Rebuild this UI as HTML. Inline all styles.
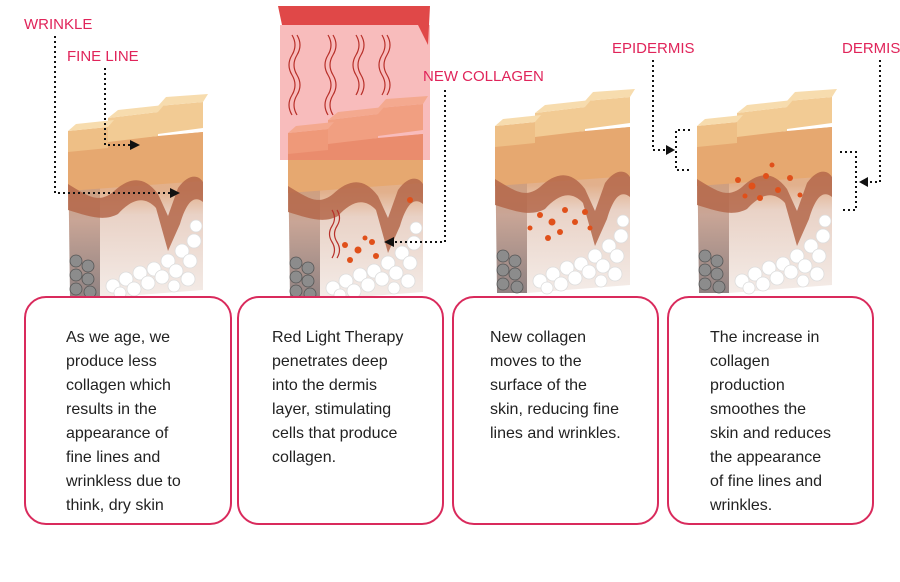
<!DOCTYPE html>
<html><head><meta charset="utf-8"><style>
body{margin:0;background:#fff;width:900px;height:582px;overflow:hidden;position:relative;font-family:"Liberation Sans",sans-serif}
.box{position:absolute;top:296px;height:229px;border:2px solid #d92a5c;border-radius:22px;box-sizing:border-box;background:#fff}
.t{position:absolute;top:326px;font-size:16px;line-height:24px;color:#222}
.l{position:absolute;color:#e0245a;font-size:15px}
svg{position:absolute;left:0;top:0}
</style></head><body>
<svg width="900" height="582">
<defs>
<linearGradient id="body" x1="0" y1="0" x2="0" y2="1">
<stop offset="0" stop-color="#e9b07a"/><stop offset="0.35" stop-color="#e2b08c"/><stop offset="0.5" stop-color="#e9d2c6"/><stop offset="1" stop-color="#f4ece8"/></linearGradient>
<linearGradient id="side" x1="0" y1="0" x2="0" y2="1">
<stop offset="0" stop-color="#d8965e"/><stop offset="0.5" stop-color="#c9a596"/><stop offset="1" stop-color="#8f8282"/></linearGradient>
<g id="blk">
<polygon points="0,38 32,36 32,192 2,192" fill="url(#side)"/>
<polygon points="32,36 135,26 135,184 32,192" fill="url(#body)"/>
<polygon points="0,38 135,26 135,75 0,85" fill="#e6a870"/>
<path d="M0,78 C20,90 30,98 45,86 C60,72 75,68 90,88 L100,110 L110,82 C120,68 130,68 135,76 L135,96 C125,88 118,98 112,118 L100,145 L88,102 C75,88 62,95 50,108 C35,116 20,110 0,104Z" fill="#b4674a" opacity="0.85"/>
<polygon points="0,25 40,21 40,42 0,46" fill="#eebf86"/>
<polygon points="40,12 90,6 90,30 40,36" fill="#f2cb94"/>
<polygon points="90,0 135,-4 135,22 90,28" fill="#f2cb94"/>
<polygon points="0,25 8,18 46,14 40,21" fill="#f7dcae"/>
<polygon points="40,12 50,4 96,-1 90,6" fill="#f7dcae"/>
<polygon points="90,0 98,-9 140,-12 135,-4" fill="#f7dcae"/>
<g fill="#fff" stroke="#ddd" stroke-width="0.8">
<circle cx="45" cy="180" r="7"/><circle cx="58" cy="173" r="7"/><circle cx="72" cy="167" r="7"/><circle cx="86" cy="163" r="7"/><circle cx="100" cy="155" r="7"/><circle cx="114" cy="145" r="7"/><circle cx="126" cy="135" r="7"/><circle cx="52" cy="187" r="6"/><circle cx="66" cy="183" r="7"/><circle cx="80" cy="177" r="7"/><circle cx="94" cy="171" r="7"/><circle cx="108" cy="165" r="7"/><circle cx="122" cy="155" r="7"/><circle cx="120" cy="173" r="7"/><circle cx="106" cy="180" r="6"/><circle cx="128" cy="120" r="6"/></g>
<g fill="#8c8c8c" stroke="#555" stroke-width="0.8">
<circle cx="8" cy="155" r="6"/><circle cx="20" cy="160" r="6"/><circle cx="8" cy="169" r="6"/><circle cx="20" cy="173" r="6"/><circle cx="8" cy="183" r="6"/><circle cx="22" cy="186" r="6"/></g>
</g>
</defs>
<use href="#blk" transform="translate(68,106)"/>
<use href="#blk" transform="translate(288,108)"/>
<use href="#blk" transform="translate(495,101)"/>
<use href="#blk" transform="translate(697,101)"/>
<rect x="280" y="25" width="150" height="135" fill="#f06a6a" opacity="0.45"/>
<polygon points="278,6 430,6 428,45 418,25 282,25" fill="#e04848"/>
<g fill="none" stroke="#b8302a" stroke-width="1.2">
<path d="M292,35 q6,10 0,20 q-6,10 0,20 q6,10 0,20 q-6,10 0,20"/><path d="M297,35 q6,10 0,20 q-6,10 0,20 q6,10 0,20 q-6,10 0,20"/>
<path d="M328,35 q6,10 0,20 q-6,10 0,20 q6,10 0,20 q-6,10 0,20"/><path d="M333,35 q6,10 0,20 q-6,10 0,20 q6,10 0,20 q-6,10 0,20"/>
<path d="M356,35 q6,10 0,20 q-6,10 0,20 q6,10 0,20"/><path d="M361,35 q6,10 0,20 q-6,10 0,20 q6,10 0,20"/>
<path d="M382,35 q6,10 0,20 q-6,10 0,20 q6,10 0,20"/><path d="M387,35 q6,10 0,20 q-6,10 0,20 q6,10 0,20"/>
<path d="M332,210 q5,8 0,16 q-5,8 0,16 q5,8 0,16"/><path d="M337,210 q5,8 0,16 q-5,8 0,16 q5,8 0,16"/></g>
<g fill="#e0501a">
<circle cx="345" cy="245" r="3"/><circle cx="358" cy="250" r="3.5"/><circle cx="372" cy="242" r="3"/><circle cx="376" cy="256" r="3"/><circle cx="350" cy="260" r="3"/><circle cx="365" cy="238" r="2.5"/><circle cx="410" cy="200" r="3"/>
<circle cx="540" cy="215" r="3"/><circle cx="552" cy="222" r="3.5"/><circle cx="565" cy="210" r="3"/><circle cx="575" cy="222" r="3"/><circle cx="560" cy="232" r="3"/><circle cx="585" cy="212" r="3"/><circle cx="548" cy="238" r="3"/><circle cx="590" cy="228" r="2.5"/><circle cx="530" cy="228" r="2.5"/>
<circle cx="738" cy="180" r="3"/><circle cx="752" cy="186" r="3.5"/><circle cx="766" cy="176" r="3"/><circle cx="778" cy="190" r="3"/><circle cx="760" cy="198" r="3"/><circle cx="790" cy="178" r="3"/><circle cx="745" cy="196" r="2.5"/><circle cx="800" cy="195" r="2.5"/><circle cx="772" cy="165" r="2.5"/></g>
<g fill="none" stroke="#111" stroke-width="2" stroke-dasharray="2 3">
<polyline points="55,36 55,193 172,193"/>
<polyline points="105,68 105,145 132,145"/>
<polyline points="445,90 445,242 392,242"/>
<polyline points="653,60 653,150 668,150"/>
<polyline points="690,130 676,130 676,170 690,170"/>
<polyline points="880,60 880,182 866,182"/>
<polyline points="840,152 856,152 856,210 840,210"/>
</g>
<g fill="#111">
<polygon points="180,193 170,188 170,198"/><polygon points="140,145 130,140 130,150"/>
<polygon points="384,242 394,237 394,247"/><polygon points="675,150 666,145 666,155"/>
<polygon points="859,182 868,177 868,187"/></g>
</svg>
<div class="l" style="left:24px;top:16px">WRINKLE</div>
<div class="l" style="left:67px;top:48px">FINE LINE</div>
<div class="l" style="left:423px;top:68px">NEW COLLAGEN</div>
<div class="l" style="left:612px;top:40px">EPIDERMIS</div>
<div class="l" style="left:842px;top:40px">DERMIS</div>
<div class="box" style="left:24px;width:208px"></div>
<div class="box" style="left:237px;width:207px"></div>
<div class="box" style="left:452px;width:207px"></div>
<div class="box" style="left:667px;width:207px"></div>
<div class="t" style="left:66px">As we age, we<br>produce less<br>collagen which<br>results in the<br>appearance of<br>fine lines and<br>wrinkless due to<br>think, dry skin</div>
<div class="t" style="left:272px">Red Light Therapy<br>penetrates deep<br>into the dermis<br>layer, stimulating<br>cells that produce<br>collagen.</div>
<div class="t" style="left:490px">New collagen<br>moves to the<br>surface of the<br>skin, reducing fine<br>lines and wrinkles.</div>
<div class="t" style="left:710px">The increase in<br>collagen<br>production<br>smoothes the<br>skin and reduces<br>the appearance<br>of fine lines and<br>wrinkles.</div>
</body></html>
